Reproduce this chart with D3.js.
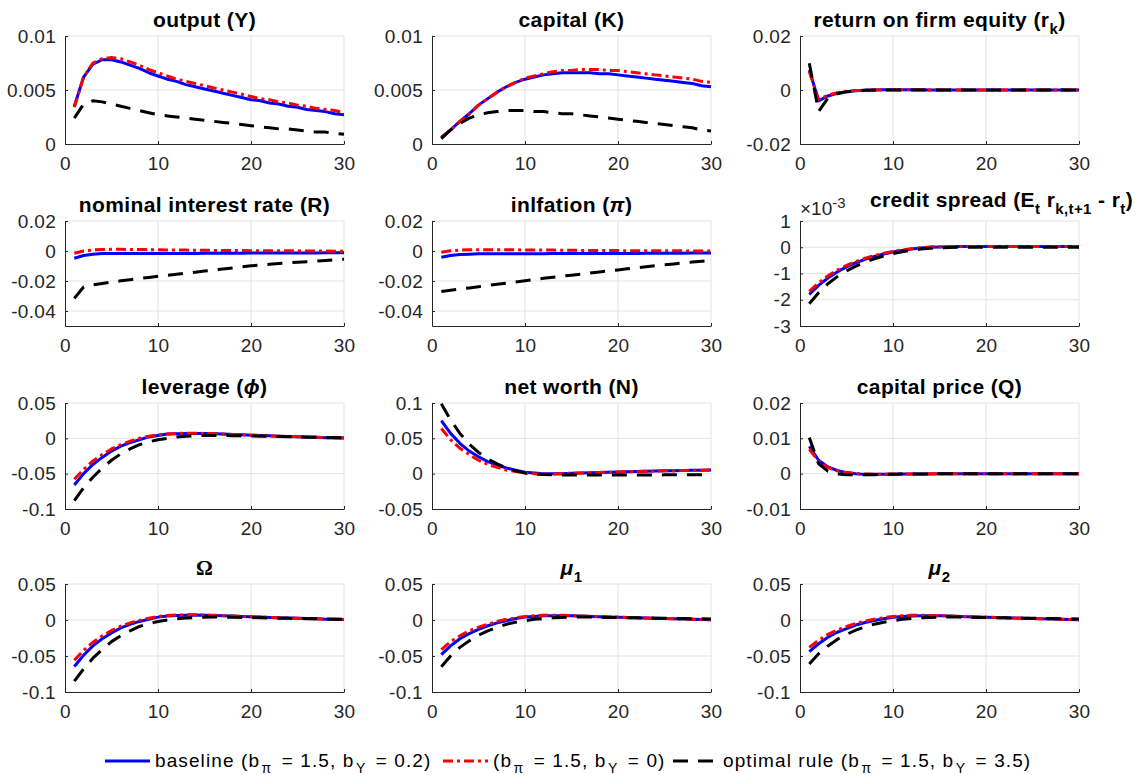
<!DOCTYPE html>
<html>
<head>
<meta charset="utf-8">
<script src="https://cdn.jsdelivr.net/npm/d3@7"></script>
<style>
  body { margin: 0; background: #fff; }
  text { font-family: "Liberation Sans", Arial, Helvetica, sans-serif; }
</style>
</head>
<body>
<div id="chart"></div>
<script>
// periods on the x axis
var periods = [1,2,3,4,5,6,7,8,9,10,11,12,13,14,15,16,17,18,19,20,21,22,23,24,25,26,27,28,29,30];
var xTicks = [0, 10, 20, 30];

// legend entries
var seriesNames = [
  [["baseline (b"], ["π", "sub"], [" = 1.5, b"], ["Y", "sub"], [" = 0.2)"]],
  [["(b"], ["π", "sub"], [" = 1.5, b"], ["Y", "sub"], [" = 0)"]],
  [["optimal rule (b"], ["π", "sub"], [" = 1.5, b"], ["Y", "sub"], [" = 3.5)"]]
];

// output (Y)
var outputBase = [.0035,.0062,.0074,.0078,.0078,.0076,.0073,.0070,.0066,.0063,.0060,.0058,.0055,.0053,.0051,.0049,.0047,.0045,.0043,.0041,.0040,.0038,.0037,.0035,.0034,.0032,.0031,.0030,.0028,.0027];
var outputNoY  = [.0034,.0062,.0075,.0079,.0080,.0079,.0076,.0073,.0069,.0066,.0063,.0060,.0058,.0056,.0054,.0052,.0050,.0048,.0046,.0044,.0042,.0041,.0039,.0038,.0036,.0035,.0033,.0032,.0031,.0029];
var outputOpt  = [.0024,.0037,.0040,.0039,.0037,.0035,.0033,.0031,.0029,.0027,.0026,.0025,.0024,.0023,.0022,.0021,.0020,.0019,.0018,.0017,.0016,.0015,.0014,.0014,.0013,.0012,.0011,.0011,.0010,.0009];
var outputTicks = [0, 0.005, 0.01];

// capital (K)
var capitalBase = [.0006,.0013,.0021,.0028,.0036,.0042,.0048,.0053,.0057,.0060,.0062,.0064,.0065,.0066,.0066,.0066,.0066,.0065,.0065,.0064,.0063,.0062,.0061,.0060,.0059,.0058,.0057,.0056,.0054,.0053];
var capitalNoY  = [.0006,.0013,.0021,.0028,.0036,.0042,.0048,.0053,.0057,.0061,.0063,.0065,.0067,.0068,.0068,.0069,.0069,.0069,.0068,.0068,.0067,.0066,.0065,.0064,.0063,.0062,.0061,.0060,.0058,.0057];
var capitalOpt  = [.0005,.0013,.0019,.0024,.0027,.0029,.0030,.0031,.0031,.0031,.0030,.0030,.0029,.0028,.0028,.0027,.0026,.0025,.0024,.0023,.0022,.0021,.0020,.0019,.0018,.0017,.0016,.0015,.0013,.0012];
var capitalTicks = [0, 0.005, 0.01];

// return on firm equity (r_k)
var rkBase = [.0074,-.0040,-.0022,-.0012,-.0006,-.0003,-.0001,0,.0001,.0001,.0001,.0001,.0001,0,0,0,0,0,0,0,0,0,0,0,0,0,0,0,0,0];
var rkNoY  = [.0068,-.0035,-.0019,-.0010,-.0005,-.0002,-.0001,0,.0001,.0001,.0001,.0001,.0001,0,0,0,0,0,0,0,0,0,0,0,0,0,0,0,0,0];
var rkOpt  = [.0099,-.0080,-.0030,-.0014,-.0007,-.0003,-.0001,0,0,0,0,0,0,0,0,0,0,0,0,0,0,0,0,0,0,0,0,0,0,0];
var rkTicks = [-0.02, 0, 0.02];

// nominal interest rate (R)
var rateBase = [-.0048,-.0030,-.0021,-.0017,-.0016,-.0016,-.0016,-.0016,-.0016,-.0016,-.0016,-.0016,-.0016,-.0016,-.0015,-.0015,-.0015,-.0015,-.0015,-.0014,-.0014,-.0014,-.0014,-.0013,-.0013,-.0013,-.0013,-.0012,-.0012,-.0012];
var rateNoY  = [-.0015,.0000,.0007,.0010,.0011,.0011,.0010,.0010,.0009,.0008,.0007,.0007,.0006,.0005,.0005,.0004,.0004,.0003,.0003,.0002,.0002,.0002,.0001,.0001,.0001,.0000,.0000,.0000,-.0001,-.0001];
var rateOpt  = [-.0316,-.0240,-.0226,-.0216,-.0207,-.0199,-.0191,-.0184,-.0176,-.0169,-.0162,-.0155,-.0148,-.0141,-.0134,-.0127,-.0120,-.0113,-.0106,-.0099,-.0094,-.0089,-.0084,-.0079,-.0075,-.0071,-.0067,-.0063,-.0059,-.0055];
var rateTicks = [-0.04, -0.02, 0, 0.02];

// inflation
var inflBase = [-.0042,-.0030,-.0024,-.0021,-.0019,-.0018,-.0018,-.0018,-.0018,-.0018,-.0018,-.0018,-.0017,-.0017,-.0017,-.0017,-.0017,-.0016,-.0016,-.0016,-.0016,-.0016,-.0015,-.0015,-.0015,-.0015,-.0015,-.0014,-.0014,-.0014];
var inflNoY  = [-.0008,.0002,.0006,.0008,.0009,.0009,.0009,.0008,.0008,.0007,.0007,.0006,.0006,.0005,.0005,.0004,.0004,.0003,.0003,.0003,.0002,.0002,.0002,.0001,.0001,.0001,.0001,0,0,0];
var inflOpt  = [-.0270,-.0262,-.0254,-.0246,-.0238,-.0230,-.0222,-.0214,-.0206,-.0198,-.0190,-.0182,-.0175,-.0168,-.0161,-.0154,-.0147,-.0140,-.0133,-.0126,-.0119,-.0112,-.0105,-.0098,-.0092,-.0086,-.0080,-.0074,-.0068,-.0062];
var inflTicks = [-0.04, -0.02, 0, 0.02];

// credit spread, in units of 1e-3
var spreadBase = [-1.80,-1.45,-1.17,-0.94,-0.75,-0.59,-0.46,-0.35,-0.26,-0.18,-0.12,-0.07,-0.03,0.00,0.01,0.02,0.03,0.03,0.03,0.03,0.03,0.03,0.03,0.03,0.03,0.03,0.03,0.03,0.03,0.03];
var spreadNoY  = [-1.68,-1.36,-1.09,-0.87,-0.69,-0.54,-0.42,-0.32,-0.23,-0.16,-0.10,-0.06,-0.02,0.01,0.02,0.03,0.03,0.03,0.03,0.03,0.03,0.03,0.03,0.03,0.03,0.03,0.03,0.03,0.03,0.03];
var spreadOpt  = [-2.15,-1.73,-1.39,-1.12,-0.90,-0.72,-0.57,-0.44,-0.33,-0.24,-0.17,-0.11,-0.07,-0.04,-0.02,-0.01,0,0,0,0,0,0,0,0,0,0,0,0,0,0];
var spreadTicks = [-3, -2, -1, 0, 1];

// leverage (phi)
var levBase = [-.066,-.050,-.037,-.027,-.018,-.011,-.006,-.002,.002,.004,.006,.0065,.007,.007,.0068,.0065,.006,.0055,.005,.0045,.004,.0035,.003,.0026,.0022,.0018,.0014,.001,.0007,.0004];
var levNoY  = [-.058,-.044,-.032,-.023,-.015,-.009,-.004,0,.003,.005,.006,.007,.0072,.0072,.007,.0066,.006,.0055,.005,.0045,.004,.0035,.003,.0026,.0022,.0018,.0014,.001,.0007,.0004];
var levOpt  = [-.088,-.070,-.055,-.042,-.031,-.022,-.015,-.009,-.005,-.002,0,.002,.003,.0035,.004,.004,.004,.0038,.0035,.0033,.003,.0028,.0025,.0022,.002,.0017,.0015,.0012,.001,.0008];
var levTicks = [-0.1, -0.05, 0, 0.05];

// net worth (N)
var nwBase = [.075,.057,.043,.032,.024,.017,.012,.008,.005,.002,.001,0,0,0,.0005,.001,.0013,.0016,.002,.0023,.0026,.003,.0033,.0036,.004,.0042,.0045,.0047,.005,.0052];
var nwNoY  = [.064,.048,.036,.027,.019,.013,.009,.005,.003,.001,0,-.0005,-.0005,0,.0005,.001,.0013,.0016,.002,.0023,.0026,.003,.0033,.0036,.004,.0042,.0045,.0047,.005,.0052];
var nwOpt  = [.099,.076,.057,.042,.030,.021,.014,.008,.004,.001,-.0005,-.0012,-.0016,-.0018,-.0019,-.002,-.002,-.002,-.002,-.002,-.0019,-.0019,-.0018,-.0018,-.0017,-.0017,-.0016,-.0016,-.0015,-.0015];
var nwTicks = [-0.05, 0, 0.05, 0.1];

// capital price (Q)
var qBase = [.0077,.0038,.0019,.0009,.0003,0,-.0002,-.0002,-.0002,-.0002,-.0001,-.0001,-.0001,-.0001,0,0,0,0,0,0,0,0,0,0,0,0,0,0,0,0];
var qNoY  = [.0069,.0035,.0018,.0008,.0003,0,-.0001,-.0002,-.0002,-.0001,-.0001,-.0001,-.0001,0,0,0,0,0,0,0,0,0,0,0,0,0,0,0,0,0];
var qOpt  = [.0102,.0028,.0007,-.0001,-.0003,-.0003,-.0003,-.0003,-.0002,-.0002,-.0001,-.0001,-.0001,-.0001,0,0,0,0,0,0,0,0,0,0,0,0,0,0,0,0];
var qTicks = [-0.01, 0, 0.01, 0.02];

// Omega
var omegaBase = [-.0645,-.049,-.036,-.026,-.018,-.011,-.006,-.002,.001,.004,.0055,.0063,.0067,.0068,.0066,.0063,.0059,.0055,.005,.0045,.004,.0036,.0032,.0028,.0024,.002,.0016,.0012,.0009,.0006];
var omegaNoY  = [-.056,-.042,-.031,-.022,-.0145,-.0085,-.004,-.0005,.0025,.0048,.0062,.0069,.0072,.0072,.0069,.0065,.006,.0055,.005,.0045,.004,.0036,.0032,.0028,.0024,.002,.0016,.0012,.0009,.0006];
var omegaOpt  = [-.085,-.068,-.053,-.041,-.030,-.022,-.015,-.009,-.005,-.002,0,.0018,.0028,.0034,.0038,.004,.004,.0038,.0036,.0034,.0031,.0028,.0026,.0023,.0021,.0019,.0016,.0014,.0012,.001];
var omegaTicks = [-0.1, -0.05, 0, 0.05];

// mu_1
var mu1Base = [-.048,-.036,-.026,-.019,-.013,-.008,-.004,-.001,.002,.004,.005,.006,.006,.006,.0058,.0055,.005,.0046,.0042,.0038,.0034,.003,.0027,.0023,.002,.0017,.0014,.0011,.0008,.0005];
var mu1NoY  = [-.041,-.030,-.022,-.015,-.010,-.006,-.002,.001,.003,.005,.006,.0065,.0065,.0065,.006,.0057,.0052,.0047,.0043,.0039,.0035,.0031,.0027,.0024,.002,.0017,.0014,.0011,.0008,.0005];
var mu1Opt  = [-.065,-.050,-.038,-.029,-.021,-.015,-.010,-.006,-.003,-.001,.001,.002,.003,.0035,.004,.004,.004,.0038,.0036,.0034,.0032,.003,.0028,.0026,.0024,.0022,.002,.0018,.0016,.0015];
var mu1Ticks = [-0.1, -0.05, 0, 0.05];

// mu_2
var mu2Base = [-.044,-.033,-.024,-.017,-.012,-.007,-.0035,-.0008,.0018,.0038,.005,.0057,.006,.006,.0058,.0055,.005,.0046,.0042,.0038,.0034,.003,.0027,.0023,.002,.0017,.0014,.0011,.0008,.0005];
var mu2NoY  = [-.038,-.028,-.020,-.014,-.009,-.005,-.0015,.0012,.0032,.005,.006,.0065,.0065,.0064,.006,.0057,.0052,.0047,.0043,.0039,.0035,.0031,.0027,.0024,.002,.0017,.0014,.0011,.0008,.0005];
var mu2Opt  = [-.061,-.047,-.036,-.027,-.020,-.014,-.0095,-.0058,-.003,-.001,.001,.002,.003,.0035,.004,.004,.004,.0038,.0036,.0034,.0032,.003,.0028,.0026,.0024,.0022,.002,.0018,.0016,.0015];
var mu2Ticks = [-0.1, -0.05, 0, 0.05];

// panel list (title pieces: [text, style])
var panels = [
  {title: [["output (Y)"]], domain: [0, 0.01], ticks: outputTicks, series: [outputBase, outputNoY, outputOpt]},
  {title: [["capital (K)"]], domain: [0, 0.01], ticks: capitalTicks, series: [capitalBase, capitalNoY, capitalOpt]},
  {title: [["return on firm equity (r"], ["k", "sub"], [")"]], domain: [-0.02, 0.02], ticks: rkTicks, series: [rkBase, rkNoY, rkOpt]},
  {title: [["nominal interest rate (R)"]], domain: [-0.05, 0.02], ticks: rateTicks, series: [rateBase, rateNoY, rateOpt]},
  {title: [["inlfation ("], ["π", "it"], [")"]], domain: [-0.05, 0.02], ticks: inflTicks, series: [inflBase, inflNoY, inflOpt]},
  {title: [["credit spread (E"], ["t", "sub"], [" r"], ["k,t+1", "sub"], [" - r"], ["t", "sub"], [")"]], domain: [-3, 1], ticks: spreadTicks, series: [spreadBase, spreadNoY, spreadOpt], exponent: true},
  {title: [["leverage ("], ["ϕ", "it"], [")"]], domain: [-0.1, 0.05], ticks: levTicks, series: [levBase, levNoY, levOpt]},
  {title: [["net worth (N)"]], domain: [-0.05, 0.1], ticks: nwTicks, series: [nwBase, nwNoY, nwOpt]},
  {title: [["capital price (Q)"]], domain: [-0.01, 0.02], ticks: qTicks, series: [qBase, qNoY, qOpt]},
  {title: [["Ω", "serif"]], domain: [-0.1, 0.05], ticks: omegaTicks, series: [omegaBase, omegaNoY, omegaOpt]},
  {title: [["μ", "it"], ["1", "sub"]], domain: [-0.1, 0.05], ticks: mu1Ticks, series: [mu1Base, mu1NoY, mu1Opt]},
  {title: [["μ", "it"], ["2", "sub"]], domain: [-0.1, 0.05], ticks: mu2Ticks, series: [mu2Base, mu2NoY, mu2Opt]}
];

var colors = ["#0000ff", "#ff0000", "#000000"];
var dashes = [null, "10,4,3,4", "15,10"];

var width = 1142, height = 775;
var colLeft = [65, 432, 800], plotW = 279;
var rowTop = [36, 221, 403, 584], rowH = [108, 105, 106, 108];
var axisColor = "#262626", gridColor = "#e3e3e3";

var svg = d3.select("#chart").append("svg")
    .attr("width", width)
    .attr("height", height);

// write text pieces with sub/italic parts into a text element
function richText(sel, pieces, size, subGap) {
    var shift = 0;
    pieces.forEach(function(p, n) {
        var t = sel.append("tspan").text(p[0]);
        var target = p[1] === "sub" ? Math.round(size * 0.32) : 0;
        if (target !== shift) { t.attr("dy", target - shift); shift = target; }
        if (p[1] === "sub") t.style("font-size", Math.round(size * 0.72) + "px");
        if (p[1] === "it") t.style("font-style", "italic");
        if (p[1] === "serif") t.style("font-family", "'Liberation Serif', serif");
        if (subGap && n > 0 && pieces[n - 1][1] === "sub") t.attr("dx", subGap);
        if (subGap && p[1] === "sub") t.attr("dx", subGap / 2);
    });
}

panels.forEach(function(p, i) {
    var col = i % 3, row = Math.floor(i / 3);
    var h = rowH[row];
    var g = svg.append("g")
        .attr("transform", "translate(" + colLeft[col] + "," + rowTop[row] + ")");

    var x = d3.scaleLinear().domain([0, 30]).range([0, plotW]);
    var y = d3.scaleLinear().domain(p.domain).range([h, 0]);

    // grid
    g.append("g").selectAll("line").data(xTicks.filter(function(d) { return d > 0; })).join("line")
        .attr("x1", function(d) { return x(d); }).attr("x2", function(d) { return x(d); })
        .attr("y1", 0).attr("y2", h)
        .attr("stroke", gridColor).attr("stroke-width", 1);
    g.append("g").selectAll("line").data(p.ticks.filter(function(d) { return d > p.domain[0]; })).join("line")
        .attr("x1", 0).attr("x2", plotW)
        .attr("y1", function(d) { return y(d); }).attr("y2", function(d) { return y(d); })
        .attr("stroke", gridColor).attr("stroke-width", 1);

    // lines
    var line = d3.line()
        .x(function(d, j) { return x(periods[j]); })
        .y(function(d) { return y(d); });
    p.series.forEach(function(s, k) {
        g.append("path")
            .datum(s)
            .attr("d", line)
            .attr("fill", "none")
            .attr("stroke", colors[k])
            .attr("stroke-width", 3)
            .attr("stroke-dasharray", dashes[k])
            .attr("stroke-linejoin", "round");
    });

    // axes
    var xAxis = g.append("g")
        .attr("transform", "translate(0," + h + ")")
        .call(d3.axisBottom(x).tickValues(xTicks).tickSizeInner(-3).tickSizeOuter(0).tickPadding(13)
            .tickFormat(function(d) { return String(d); }));
    var yAxis = g.append("g")
        .call(d3.axisLeft(y).tickValues(p.ticks).tickSizeInner(-3).tickSizeOuter(0).tickPadding(9)
            .tickFormat(function(d) { return String(d); }));
    [xAxis, yAxis].forEach(function(a) {
        a.select(".domain").attr("stroke", axisColor);
        a.selectAll(".tick line").attr("stroke", axisColor);
        a.selectAll(".tick text")
            .attr("fill", axisColor)
            .style("font-size", "19px")
            .style("letter-spacing", "0.3px")
            .style("font-family", "'Liberation Sans', Arial, sans-serif");
    });

    // title
    var title = g.append("text")
        .attr("x", p.exponent ? plotW / 2 + 62 : plotW / 2)
        .attr("y", p.exponent ? -14 : -9)
        .attr("text-anchor", "middle")
        .style("font-size", "21px")
        .style("font-weight", "bold")
        .style("letter-spacing", "0.4px")
        .attr("fill", "#000");
    richText(title, p.title, 21);

    // exponent label for scaled axis
    if (p.exponent) {
        var ex = g.append("text")
            .attr("x", 0).attr("y", -6)
            .attr("fill", axisColor)
            .style("font-size", "19px");
        ex.append("tspan").text("×10");
        ex.append("tspan").text("-3").attr("dy", -7).style("font-size", "15px");
    }
});

// legend
var legendX = [105, 443, 673], legendY = 761;
seriesNames.forEach(function(name, k) {
    var lg = svg.append("g").attr("transform", "translate(" + legendX[k] + "," + legendY + ")");
    lg.append("line")
        .attr("x1", 0).attr("x2", 45).attr("y1", 0).attr("y2", 0)
        .attr("stroke", colors[k]).attr("stroke-width", 3)
        .attr("stroke-dasharray", dashes[k]);
    var t = lg.append("text")
        .attr("x", 50).attr("y", 6)
        .attr("fill", "#000")
        .style("font-size", "19px")
        .style("letter-spacing", "1.1px");
    richText(t, name, 19, 3);
});
</script>
</body>
</html>
